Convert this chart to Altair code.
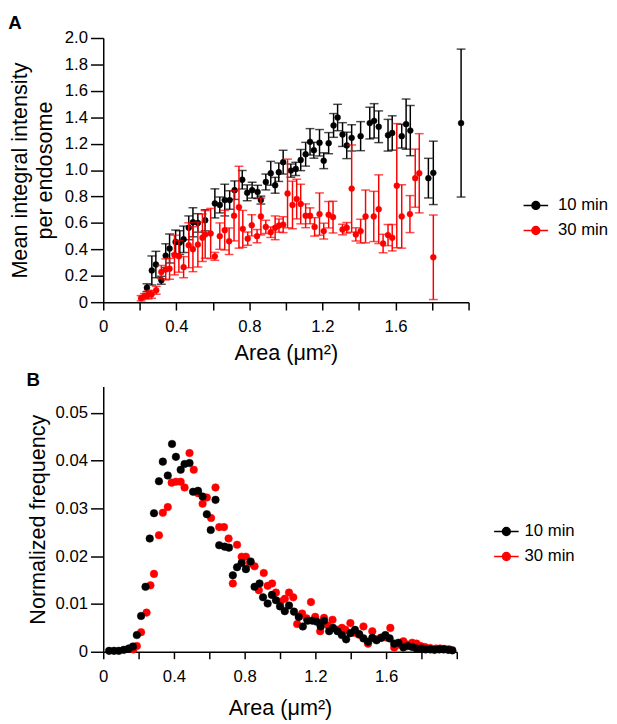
import altair as alt
import pandas as pd

FONT = "Liberation Sans"
SERIES = ["10 min", "30 min"]
COLORS = ["#000000", "#ff0000"]

# ---------------- Panel A: mean integral intensity per endosome ----------------
a10_x = [0.239, 0.266, 0.288, 0.318, 0.342, 0.363, 0.396, 0.419, 0.44, 0.468,
         0.491, 0.518, 0.558, 0.611, 0.638, 0.665, 0.692, 0.719, 0.761, 0.788,
         0.815, 0.845, 0.863, 0.89, 0.917, 0.941, 0.961, 0.985, 1.027, 1.054,
         1.081, 1.108, 1.132, 1.153, 1.184, 1.207, 1.234, 1.261, 1.283, 1.31,
         1.333, 1.36, 1.409, 1.459, 1.483, 1.508, 1.559, 1.582, 1.634, 1.658,
         1.681, 1.78, 1.807, 1.959]
a10_y = [0.109, 0.24, 0.285, 0.166, 0.352, 0.406, 0.456, 0.451, 0.476, 0.563,
         0.605, 0.6, 0.62, 0.748, 0.736, 0.773, 0.773, 0.848, 0.927, 0.828,
         0.848, 0.835, 0.773, 0.91, 0.976, 0.885, 0.984, 1.06, 0.996, 1.009,
         1.076, 1.12, 1.214, 1.15, 1.207, 1.071, 1.204, 1.338, 1.398, 1.269,
         1.187, 1.244, 1.257, 1.356, 1.373, 1.328, 1.264, 1.281, 1.257, 1.348,
         1.299, 0.939, 0.979, 1.356]
a10_err = [0.03, 0.11, 0.1, 0.03, 0.09, 0.11, 0.09, 0.09, 0.1, 0.09,
           0.11, 0.07, 0.08, 0.11, 0.06, 0.12, 0.07, 0.07, 0.07, 0.06,
           0.06, 0.05, 0.03, 0.06, 0.09, 0.06, 0.07, 0.09, 0.05, 0.05,
           0.08, 0.09, 0.1, 0.06, 0.1, 0.06, 0.08, 0.09, 0.1, 0.09,
           0.1, 0.1, 0.11, 0.12, 0.13, 0.12, 0.12, 0.13, 0.09, 0.19,
           0.19, 0.15, 0.24, 0.56]

a30_x = [0.207, 0.225, 0.245, 0.265, 0.29, 0.318, 0.342, 0.363, 0.39, 0.414,
         0.44, 0.468, 0.491, 0.518, 0.543, 0.558, 0.588, 0.611, 0.638, 0.665,
         0.689, 0.716, 0.743, 0.764, 0.791, 0.813, 0.842, 0.863, 0.89, 0.917,
         0.941, 0.962, 0.985, 1.009, 1.036, 1.059, 1.081, 1.108, 1.132, 1.157,
         1.184, 1.207, 1.234, 1.258, 1.31, 1.333, 1.36, 1.383, 1.409, 1.436,
         1.481, 1.508, 1.532, 1.559, 1.582, 1.607, 1.634, 1.679, 1.708, 1.73,
         1.807]
a30_y = [0.03, 0.045, 0.055, 0.06, 0.09, 0.228, 0.248, 0.253, 0.357, 0.347,
         0.265, 0.431, 0.401, 0.436, 0.488, 0.513, 0.52, 0.347, 0.5, 0.545,
         0.461, 0.654, 0.719, 0.555, 0.481, 0.582, 0.5, 0.649, 0.57, 0.53,
         0.563, 0.58, 0.587, 0.823, 0.736, 0.781, 0.743, 0.654, 0.654, 0.57,
         0.667, 0.538, 0.662, 0.644, 0.55, 0.563, 0.86, 0.513, 0.538, 0.649,
         0.649, 0.704, 0.444, 0.508, 0.488, 0.882, 0.649, 0.667, 0.939, 0.976,
         0.34]
a30_err = [0.02, 0.02, 0.03, 0.03, 0.03, 0.05, 0.08, 0.08, 0.15, 0.12,
           0.08, 0.17, 0.17, 0.17, 0.18, 0.18, 0.19, 0.03, 0.1, 0.15,
           0.1, 0.19, 0.31, 0.14, 0.05, 0.08, 0.05, 0.14, 0.05, 0.04,
           0.09, 0.05, 0.06, 0.26, 0.18, 0.15, 0.15, 0.09, 0.06, 0.07,
           0.16, 0.06, 0.1, 0.12, 0.04, 0.04, 0.33, 0.05, 0.09, 0.2,
           0.19, 0.26, 0.07, 0.08, 0.1, 0.47, 0.24, 0.14, 0.22, 0.3,
           0.32]

# ---------------- Panel B: normalized frequency ----------------
b10_x = [0.033, 0.061, 0.088, 0.116, 0.144, 0.168, 0.19, 0.214, 0.239, 0.263,
         0.287, 0.315, 0.337, 0.365, 0.389, 0.411, 0.438, 0.46, 0.488, 0.508,
         0.536, 0.562, 0.586, 0.608, 0.635, 0.656, 0.687, 0.711, 0.733, 0.757,
         0.783, 0.807, 0.834, 0.856, 0.884, 0.904, 0.93, 0.954, 0.977, 1.0,
         1.027, 1.051, 1.079, 1.106, 1.129, 1.156, 1.184, 1.208, 1.23, 1.249,
         1.278, 1.3, 1.325, 1.35, 1.374, 1.398, 1.424, 1.448, 1.472, 1.498,
         1.522, 1.546, 1.572, 1.596, 1.62, 1.646, 1.67, 1.698, 1.722, 1.748,
         1.772, 1.8, 1.824, 1.85, 1.874, 1.901, 1.925, 1.951, 1.975]
b10_y = [0.0002, 0.0002, 0.0002, 0.0004, 0.0007, 0.0011, 0.0035, 0.0075, 0.0136, 0.0237,
         0.029, 0.0357, 0.0398, 0.0369, 0.0435, 0.0408, 0.0381, 0.0393, 0.0395, 0.0335,
         0.0337, 0.0325, 0.0288, 0.0255, 0.0318, 0.0223, 0.022, 0.0218, 0.016, 0.0177,
         0.0186, 0.0173, 0.0189, 0.0136, 0.0143, 0.0114, 0.0101, 0.0119, 0.0108, 0.0095,
         0.0085, 0.0097, 0.0084, 0.0073, 0.0053, 0.0065, 0.0065, 0.0063, 0.0053, 0.0065,
         0.0043, 0.005, 0.0043, 0.0035, 0.0026, 0.0039, 0.0046, 0.0037, 0.0028, 0.0021,
         0.0029, 0.0024, 0.0029, 0.0035, 0.0028, 0.0017, 0.0019, 0.0009, 0.0012, 0.001,
         0.0007, 0.0007, 0.0005, 0.0005, 0.0004, 0.0005, 0.0005, 0.0004, 0.0003]

b30_x = [0.17, 0.19, 0.214, 0.245, 0.267, 0.287, 0.315, 0.337, 0.365, 0.387,
         0.411, 0.438, 0.46, 0.488, 0.512, 0.536, 0.562, 0.586, 0.61, 0.635,
         0.656, 0.683, 0.709, 0.733, 0.757, 0.783, 0.807, 0.83, 0.856, 0.88,
         0.908, 0.93, 0.955, 0.977, 1.003, 1.027, 1.051, 1.075, 1.097, 1.125,
         1.15, 1.175, 1.199, 1.227, 1.249, 1.272, 1.297, 1.325, 1.35, 1.37,
         1.398, 1.42, 1.445, 1.472, 1.498, 1.522, 1.546, 1.572, 1.6, 1.624,
         1.646, 1.672, 1.698, 1.722, 1.748, 1.772, 1.796, 1.82, 1.85, 1.883,
         1.907, 1.93, 1.957]
b30_y = [0.0005, 0.0012, 0.0041, 0.0082, 0.0139, 0.0163, 0.0244, 0.0291, 0.0303, 0.0354,
         0.0356, 0.0356, 0.0344, 0.0416, 0.0381, 0.0332, 0.031, 0.0323, 0.028, 0.0344,
         0.0261, 0.0261, 0.0237, 0.0143, 0.0224, 0.0199, 0.0199, 0.0185, 0.0179, 0.0129,
         0.0165, 0.0138, 0.0143, 0.0124, 0.0105, 0.0111, 0.0124, 0.0114, 0.0058, 0.008,
         0.007, 0.0104, 0.0073, 0.0043, 0.0071, 0.0055, 0.0067, 0.0046, 0.005, 0.0046,
         0.006, 0.004, 0.0036, 0.0053, 0.0017, 0.0043, 0.0026, 0.003, 0.003, 0.005,
         0.0009, 0.0015, 0.0022, 0.0015, 0.0019, 0.0017, 0.0012, 0.001, 0.0008, 0.0007,
         0.0007, 0.0006, 0.0005]


def frame(xs, ys, series, errs=None):
    n = min(len(xs), len(ys)) if errs is None else min(len(xs), len(ys), len(errs))
    d = {"x": xs[:n], "y": ys[:n], "s": [series] * n}
    if errs is not None:
        d["e"] = errs[:n]
    return pd.DataFrame(d)


cs = alt.Scale(domain=SERIES, range=COLORS)
sym_path = "M-1,0L1,0M-0.32,0A0.32,0.32,0,1,0,0.32,0A0.32,0.32,0,1,0,-0.32,0Z"


def legend(lx, ly, loff):
    return alt.Legend(orient="none", legendX=lx, legendY=ly, title=None,
                      symbolType=sym_path, symbolSize=625, symbolStrokeWidth=1.5,
                      labelFont=FONT, labelFontSize=17, labelColor="black",
                      labelOffset=loff, rowPadding=3.5, padding=0)


x_label_expr = ("datum.value == 0 ? '0' : ((round(datum.value*10) % 4 == 0 && datum.value < 1.9)"
                " ? format(datum.value, '.1f') : '')")
x_ticks = [round(0.2 * i, 1) for i in range(11)]

# ---------- Panel A ----------
xA_axis = alt.Axis(values=x_ticks, title="Area (μm²)", tickSize=8, labelPadding=9,
                   titlePadding=8, labelFlush=False, labelOverlap=False,
                   labelExpr=x_label_expr)
xA_scale = alt.Scale(domain=[0, 2.0], nice=False, zero=False)
yA_ticks = [round(0.2 * i, 1) for i in range(11)]
yA_axis = alt.Axis(values=yA_ticks, title=["Mean integral intensity", "per endosome"],
                   tickSize=13, labelPadding=3, titlePadding=8, titleLineHeight=26,
                   labelFlush=False, labelOverlap=False,
                   labelExpr="datum.value == 0 ? '0' : format(datum.value, '.1f')")
yA_scale = alt.Scale(domain=[0, 2.0], nice=False, zero=False)

legA = legend(427, 157, 9)


def xA():
    return alt.X("x:Q", scale=xA_scale, axis=xA_axis)


def yA(field):
    return alt.Y(field + ":Q", scale=yA_scale, axis=yA_axis)


def fillA():
    return alt.Fill("s:N", scale=cs, legend=legA)


def strokeA():
    return alt.Stroke("s:N", scale=cs, legend=legA)


def panelA_series(df):
    base = alt.Chart(df).transform_calculate(lo="datum.y - datum.e", hi="datum.y + datum.e")
    rule = base.mark_rule(strokeWidth=1.5).encode(x=xA(), y=yA("lo"), y2="hi:Q", stroke=strokeA())
    cap_lo = base.mark_tick(orient="horizontal", size=9, thickness=1.5).encode(
        x=xA(), y=yA("lo"), fill=fillA())
    cap_hi = base.mark_tick(orient="horizontal", size=9, thickness=1.5).encode(
        x=xA(), y=yA("hi"), fill=fillA())
    pts = base.mark_point(filled=True, size=36, strokeWidth=0.5, opacity=1).encode(
        x=xA(), y=yA("y"), fill=fillA(), stroke=strokeA())
    return [rule, cap_lo, cap_hi, pts]


dfA10 = frame(a10_x, a10_y, "10 min", a10_err)
dfA30 = frame(a30_x, a30_y, "30 min", a30_err)

panelA = alt.layer(*panelA_series(dfA10), *panelA_series(dfA30)).properties(
    width=372, height=269,
    title=alt.TitleParams("A", anchor="start", frame="bounds", font=FONT, fontSize=19,
                          fontWeight="bold", color="black", offset=-4))

# ---------- Panel B ----------
xB_scale = alt.Scale(domain=[0, 2.0], nice=False, zero=False)
yB_scale = alt.Scale(domain=[0, 0.0555], nice=False, zero=False)
xB_axis = alt.Axis(values=x_ticks, title="Area (μm²)", tickSize=7, labelPadding=10,
                   titlePadding=14, labelFlush=False, labelOverlap=False,
                   labelExpr=x_label_expr)
yB_axis = alt.Axis(values=[0, 0.01, 0.02, 0.03, 0.04, 0.05], title="Normalized frequency",
                   tickSize=13, labelPadding=3, titlePadding=6, labelFlush=False,
                   labelOverlap=False,
                   labelExpr="datum.value == 0 ? '0' : format(datum.value, '.2f')")
legB = legend(397, 134, 5)


def panelB_series(df):
    return alt.Chart(df).mark_point(filled=True, size=60, strokeWidth=0.5, opacity=1).encode(
        x=alt.X("x:Q", scale=xB_scale, axis=xB_axis),
        y=alt.Y("y:Q", scale=yB_scale, axis=yB_axis),
        fill=alt.Fill("s:N", scale=cs, legend=legB),
        stroke=alt.Stroke("s:N", scale=cs, legend=legB))


dfB10 = frame(b10_x, b10_y, "10 min")
dfB30 = frame(b30_x, b30_y, "30 min")

panelB = alt.layer(panelB_series(dfB30), panelB_series(dfB10)).properties(
    width=360, height=270,
    title=alt.TitleParams("B", anchor="start", frame="bounds", font=FONT, fontSize=19,
                          fontWeight="bold", color="black", offset=-3))

chart = alt.vconcat(panelA, panelB, spacing=8).resolve_scale(
    fill="independent", stroke="independent"
).resolve_legend(fill="independent", stroke="independent").properties(
    padding=0
).configure_view(stroke=None).configure_axis(
    domainColor="black", domainWidth=1.5, tickColor="black", tickWidth=1.5,
    labelFont=FONT, labelFontSize=17, labelColor="black",
    titleFont=FONT, titleFontSize=22, titleFontWeight="normal", titleColor="black",
    grid=False
)

chart.save("out.html", embed_options={"renderer": "svg", "actions": False})
